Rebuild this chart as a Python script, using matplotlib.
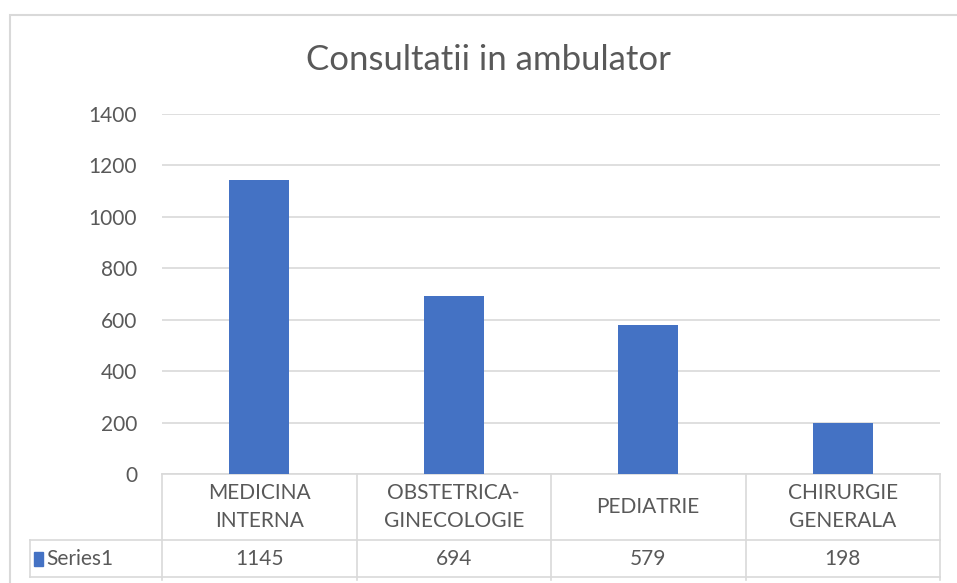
import matplotlib.pyplot as plt
import matplotlib.patches as patches
from matplotlib.transforms import blended_transform_factory

categories = ['MEDICINA\nINTERNA', 'OBSTETRICA-\nGINECOLOGIE', 'PEDIATRIE', 'CHIRURGIE\nGENERALA']
values = [1145, 694, 579, 198]
series_name = 'Series1'
yticks = [0, 200, 400, 600, 800, 1000, 1200, 1400]

plt.rcParams['font.family'] = ['Lato', 'DejaVu Sans']
TXT = '#595959'
GRID = '#d9d9d9'
BLUE = '#4472c4'
FS = 15

fig = plt.figure(figsize=(9.57, 5.83), dpi=100)
ax = fig.add_axes([162 / 957, 1 - 474 / 583, (940 - 162) / 957, 360 / 583])

x = list(range(len(values)))
ax.bar(x, values, width=0.31, color=BLUE, zorder=3)
ax.set_xlim(-0.5, len(values) - 0.5)
ax.set_ylim(0, 1400)
ax.set_yticks(yticks)
ax.set_xticks([])
ax.tick_params(axis='y', length=0, pad=18, labelsize=FS, labelcolor=TXT)
ax.yaxis.grid(True, color=GRID, linewidth=1.2, zorder=0)
for s in ax.spines.values():
    s.set_visible(False)

# data table under the axis
tr = blended_transform_factory(ax.transData, ax.transAxes)
lw = 1.2
y_top, y_mid, y_bot, y_end = 0.0, -0.1833, -0.2861, -0.294
x_left = -1.1787
ax.plot([-0.5, 3.5], [y_top, y_top], color=GRID, lw=lw, transform=tr, clip_on=False)
ax.plot([x_left, 3.5], [y_mid, y_mid], color=GRID, lw=lw, transform=tr, clip_on=False)
ax.plot([x_left, 3.5], [y_bot, y_bot], color=GRID, lw=lw, transform=tr, clip_on=False)
ax.plot([x_left, x_left], [y_mid, y_bot], color=GRID, lw=lw, transform=tr, clip_on=False)
for xv in [-0.5, 0.5, 1.5, 2.5, 3.5]:
    ax.plot([xv, xv], [y_top, y_end], color=GRID, lw=lw, transform=tr, clip_on=False)

for i, (c, v) in enumerate(zip(categories, values)):
    ax.text(i, -0.0917, c, transform=tr, ha='center', va='center',
            fontsize=FS, color=TXT, linespacing=1.45)
    ax.text(i, -0.236, str(v), transform=tr, ha='center', va='center',
            fontsize=FS, color=TXT)

ax.add_patch(patches.Rectangle((x_left + 0.022, -0.256), 0.046, 0.04, transform=tr,
                               color=BLUE, clip_on=False))
ax.text(x_left + 0.085, -0.236, series_name, transform=tr, ha='left', va='center',
        fontsize=FS, color=TXT)

fig.text(488 / 957, 1 - 60 / 583, 'Consultatii in ambulator', ha='center', va='center',
         fontsize=25, color=TXT)

# chart border
fig.patches.append(patches.Rectangle((10 / 957, -0.1), 1.2, 1 - 15 / 583 + 0.1,
                                     transform=fig.transFigure, fill=False,
                                     edgecolor=GRID, linewidth=1.5))

fig.savefig('out.png', dpi=100)
